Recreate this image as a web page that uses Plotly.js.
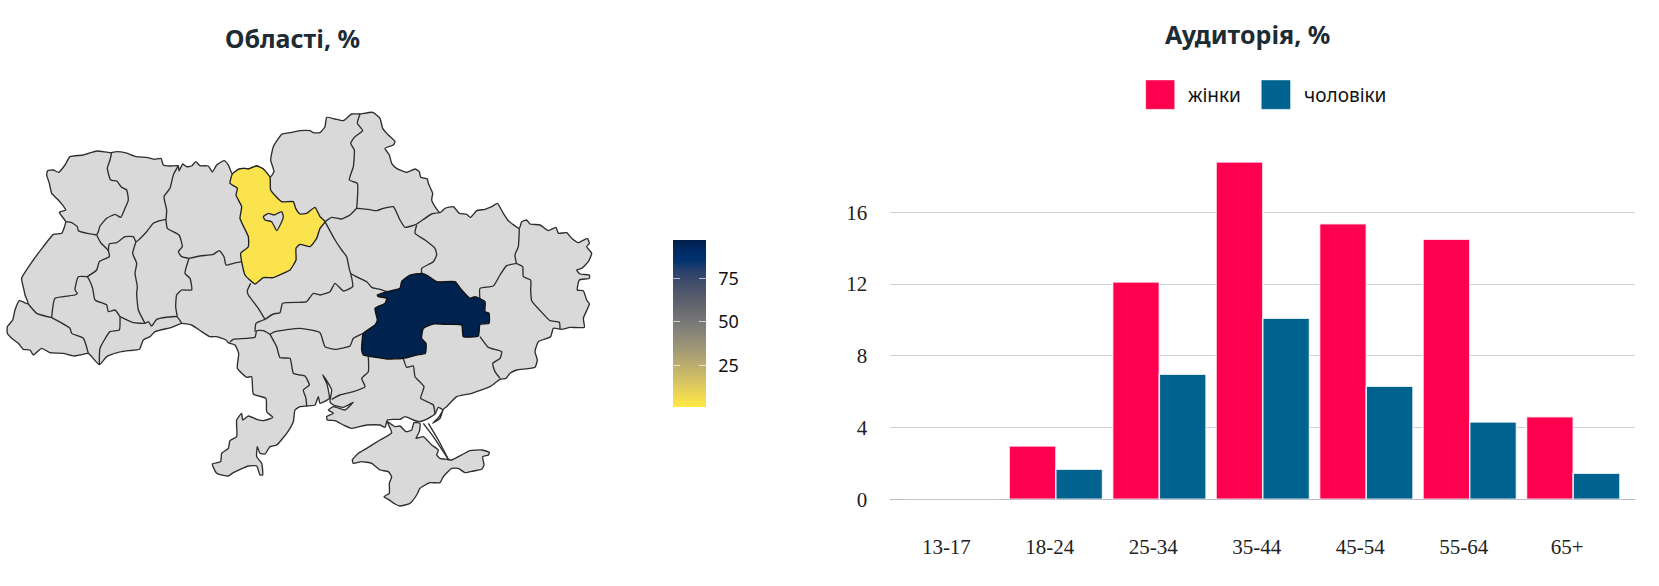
<!DOCTYPE html>
<html><head><meta charset="utf-8">
<script src="https://cdn.plot.ly/plotly-3.0.1.min.js"></script>
<style>html,body{margin:0;padding:0;background:#fff}#chart{width:1659px;height:586px}</style>
</head><body><div id="chart"></div>
<script>
// ---------- audience data ----------
const ageGroups = ['13-17','18-24','25-34','35-44','45-54','55-64','65+'];
const womenShare = [0, 2.97, 12.11, 18.8, 15.36, 14.49, 4.6];
const menShare = [0, 1.67, 6.97, 10.09, 6.3, 4.31, 1.45];
const yTicks = [0, 4, 8, 12, 16];
const seriesNames = ['жінки', 'чоловіки'];

// ---------- region data ----------
const scaleMin = 1, scaleMax = 97;
const scaleTicks = [25, 50, 75];
const scaleLevels = [1, 13, 25, 37, 49, 61, 73, 85, 97];

// ---------- map outlines, [east, south] in map-grid units ----------
const mainlandOutline = [[143,512],[160,510],[176,517],[195,495],[210,470],[250,465],[290,453],[330,458],[350,455],[375,458],[410,470],[440,472],[462,478],[483,475],[490,495],[510,498],[535,497],[537,513],[548,492],[560,500],[575,498],[587,485],[600,497],[625,498],[637,516],[650,495],[672,482],[685,495],[697,522],[715,508],[733,505],[745,507],[770,498],[790,507],[810,532],[822,515],[812,480],[820,440],[845,403],[870,398],[900,392],
[930,392],[940,398],[960,398],[975,380],[980,352],[1005,357],[1030,362],[1055,342],[1080,342],[1118,337],[1140,355],[1148,385],[1165,405],[1185,425],[1180,435],[1155,445],[1168,465],[1175,490],[1190,505],[1220,517],[1245,507],[1258,515],[1262,532],[1282,537],[1285,550],[1298,580],[1295,600],[1305,620],[1320,638],[1335,625],[1360,620],[1378,640],[1400,643],[1412,652],[1430,632],[1455,628],[1475,620],[1492,610],[1510,640],[1525,662],[1558,685],[1565,665],[1580,660],[1590,672],[1620,675],[1645,692],[1668,682],[1675,700],[1700,698],[1715,715],[1735,728],[1762,715],[1768,730],[1760,740],[1775,760],[1765,785],[1745,805],[1730,810],[1740,822],[1768,825],[1768,835],[1738,840],[1732,870],[1750,872],[1760,900],
[1768,912],[1750,955],[1753,982],[1710,982],[1685,988],[1660,985],[1652,1010],[1615,1025],[1605,1055],[1612,1080],[1605,1102],[1550,1110],[1530,1120],[1518,1135],[1500,1138],[1470,1160],[1415,1180],[1370,1190],[1340,1220],[1330,1228],[1320,1255],[1298,1270],[1315,1253],[1328,1230],[1315,1222],[1305,1242],[1285,1255],[1267,1263],[1258,1265],[1240,1260],[1215,1250],[1200,1258],[1180,1258],[1162,1260],[1155,1282],[1140,1275],[1100,1275],[1055,1285],[1030,1275],[1005,1262],[982,1260],[980,1250],[1000,1240],[985,1230],[1000,1220],[1035,1230],[1060,1207],[1030,1222],[1000,1215],[990,1205],[995,1170],[985,1150],[968,1125],[980,1150],[985,1170],[988,1195],[960,1210],[955,1190],[945,1215],[920,1218],[900,1220],
[885,1230],[880,1265],[860,1300],[830,1335],[810,1340],[795,1362],[780,1360],[772,1340],[770,1370],[785,1390],[788,1425],[780,1425],[770,1398],[745,1398],[700,1418],[685,1428],[650,1420],[637,1392],[662,1385],[665,1360],[685,1345],[690,1322],[710,1310],[710,1260],[725,1240],[728,1260],[745,1248],[770,1258],[790,1262],[818,1252],[800,1235],[798,1195],[760,1182],[755,1130],[740,1132],[712,1105],[716,1060],[705,1035],[685,1028],[678,1020],[650,1010],[630,1010],[605,995],[575,975],[545,970],
[515,982],[465,995],[450,1010],[430,1020],[418,1048],[385,1052],[355,1057],[320,1070],[298,1094],[265,1060],[240,1065],[222,1068],[190,1060],[150,1058],[125,1045],[100,1065],[90,1050],[70,1048],[55,1030],[35,1015],[22,1000],[22,980],[38,960],[45,930],[58,902],[85,912],[75,885],[72,870],[65,835],[100,780],[130,740],[160,703],[185,700],[197,665],[178,637],[197,630],[175,600],[155,580],[148,550],[140,525],[143,512]];

const crimeaOutline = [[1175,1298],[1162,1265],[1185,1280],[1200,1278],[1218,1295],[1235,1290],[1242,1268],[1260,1270],[1258,1295],[1248,1315],[1270,1310],[1295,1335],[1315,1350],[1310,1365],[1320,1375],[1340,1378],[1355,1380],[1375,1370],[1390,1362],[1410,1352],[1445,1350],[1468,1357],[1465,1365],[1448,1370],[1452,1395],[1445,1408],[1420,1413],[1395,1418],[1375,1405],[1355,1405],[1330,1430],[1320,1448],[1290,1448],[1260,1465],[1250,1485],[1230,1510],[1200,1518],[1185,1512],[1165,1498],[1152,1490],[1168,1480],[1168,1450],[1175,1430],[1165,1415],[1140,1410],[1115,1390],[1085,1385],[1060,1390],[1057,1380],[1075,1360],[1100,1345],[1140,1320],[1175,1298]];

const kyivOblast = [[697,522],[715,508],[733,505],[745,507],[770,498],[790,507],[810,532],[812,570],[845,605],[880,605],[887,625],[900,642],[920,640],[945,622],[960,650],[975,665],[960,685],[950,715],[930,740],[900,733],[888,745],[888,780],[870,810],[850,820],[820,833],[790,833],[765,852],[735,825],[725,785],[722,760],[745,740],[745,710],[720,655],[725,620],[708,585],[712,565],[690,550],[697,522]];
const kyivCity = [[790,650],[805,640],[822,645],[845,635],[850,650],[842,672],[830,692],[815,665],[795,660],[790,650]];
const dniproOblast = [[1132,885],[1162,875],[1200,865],[1205,845],[1230,825],[1265,820],[1285,828],[1310,845],[1365,845],[1385,870],[1410,895],[1425,890],[1455,905],[1455,935],[1467,940],[1467,970],[1440,973],[1435,1008],[1390,1010],[1385,975],[1340,973],[1300,972],[1270,985],[1265,1015],[1278,1030],[1276,1060],[1250,1065],[1210,1075],[1160,1077],[1135,1073],[1090,1065],[1085,1050],[1090,1000],[1125,975],[1132,960],[1125,925],[1155,910],[1160,895],[1135,890],[1132,885]];

const internalBorders = [
 [[335,458],[330,480],[322,505],[332,540],[350,543],[365,562],[380,570],[385,600],[375,625],[362,652],[345,643],[320,655],[300,678],[295,695],[290,705]],
 [[197,665],[215,668],[232,680],[235,692],[262,700],[290,705]],
 [[290,705],[302,728],[325,752],[328,770],[298,785],[290,810],[262,830]],
 [[262,830],[268,840],[278,865],[285,900],[320,915],[325,935],[345,930],[360,950]],
 [[360,950],[358,990],[330,995],[300,1045],[298,1094]],
 [[262,830],[235,830],[225,870],[232,880],[225,885],[165,895],[155,953]],
 [[155,953],[210,985],[215,1000],[250,1015],[265,1060]],
 [[85,912],[110,940],[155,953]],
 [[325,752],[328,732],[350,728],[375,710],[400,710],[408,725],[440,695],[460,670],[480,662],[498,658]],
 [[408,725],[398,760],[410,790],[405,820],[412,860],[410,880],[415,930],[435,970]],
 [[360,950],[400,968],[435,970],[445,965],[455,978],[470,958],[530,950],[545,970]],
 [[567,775],[555,820],[570,835],[575,870],[545,870],[530,885],[527,920],[532,950]],
 [[535,497],[520,525],[510,565],[492,590],[500,630],[498,658]],
 [[498,658],[502,685],[537,705],[547,740],[535,755],[545,770],[567,775]],
 [[567,775],[600,768],[640,763],[658,752],[672,770],[678,795],[700,790],[725,785]],
 [[752,850],[742,872],[745,885],[760,905],[775,925],[795,958]],
 [[795,958],[768,970],[765,995]],
 [[690,1025],[700,1018],[765,1012],[770,992],[790,992],[810,1003]],
 [[795,958],[820,942],[840,938],[848,910],[900,907],[920,905],[940,880],[960,885],[990,875],[1005,850],[1030,873],[1058,860],[1052,820]],
 [[810,1003],[825,995],[900,985],[960,998],[975,1040],[1005,1048],[1050,1038],[1060,1015],[1090,1000]],
 [[810,1003],[830,1040],[840,1073],[870,1075],[880,1120],[900,1125],[915,1128],[928,1155],[910,1170],[918,1195],[920,1218]],
 [[1105,1070],[1105,1115],[1085,1135],[1095,1160],[1060,1175],[1020,1185],[995,1198]],
 [[1210,1075],[1220,1102],[1240,1098],[1245,1130],[1272,1160],[1262,1195],[1300,1215],[1305,1242]],
 [[1440,1010],[1465,1042],[1505,1055],[1500,1075],[1478,1090],[1485,1115],[1500,1135]],
 [[1440,900],[1440,865],[1480,858],[1500,825],[1520,797],[1550,790]],
 [[1558,685],[1555,740],[1545,765],[1550,790],[1568,800],[1570,830],[1592,840],[1592,870],[1595,902],[1630,942],[1650,962],[1678,967],[1680,988]],
 [[1080,342],[1072,370],[1088,392],[1065,410],[1052,430],[1063,450],[1060,500],[1048,540],[1072,550],[1070,625]],
 [[1070,625],[1050,645],[1025,657],[995,652],[975,665]],
 [[1070,625],[1105,628],[1130,632],[1150,625],[1180,620],[1200,660],[1215,682],[1235,678],[1250,672],[1295,642],[1320,638]],
 [[1250,675],[1245,700],[1275,720],[1305,745],[1310,765],[1300,785],[1265,805],[1265,820]],
 [[975,665],[1005,720],[1025,750],[1040,770],[1052,820],[1100,845],[1115,862],[1140,868],[1162,875]],
 [[1270,1270],[1300,1310],[1345,1378]],
 [[1285,1270],[1315,1320],[1345,1378]]
];

const W = 1659, H = 586;
const xs = p => p.map(q => q[0]);
const ys = p => p.map(q => q[1]);
const joined = (list, i) => list.flatMap(b => b.map(q => q[i]).concat([null]));
const fx = v => v / W;
const fy = v => 1 - v / H;

const LINE = '#2e2e2e', LAND = '#d9d9d9', YELLOW = '#fae34c', NAVY = '#00224e';
const lineStyle = (c, w) => ({color:c, width:w, shape:'spline', smoothing:0.45});
const poly = (p, fill, lineColor) => ({type:'scatter', mode:'lines', x:xs(p), y:ys(p), xaxis:'x', yaxis:'y',
  fill:'toself', fillcolor:fill, line:lineStyle(lineColor, 1.35), hoverinfo:'skip', showlegend:false});

const traces = [
  poly(mainlandOutline, LAND, LINE),
  poly(crimeaOutline, LAND, LINE),
  {type:'scatter', mode:'lines', x:joined(internalBorders,0), y:joined(internalBorders,1), xaxis:'x', yaxis:'y',
   line:lineStyle(LINE, 1.35), hoverinfo:'skip', showlegend:false, connectgaps:false},
  poly(kyivOblast, YELLOW, '#222'),
  poly(kyivCity, LAND, LINE),
  poly(dniproOblast, NAVY, '#111'),
  {type:'heatmap', x:[0,1], y:scaleLevels, z:scaleLevels.map(v => [v,v]), xaxis:'x3', yaxis:'y3', zsmooth:'best',
   zmin:scaleMin, zmax:scaleMax, colorscale:'Cividis', reversescale:true, showscale:false, hoverinfo:'skip'},
  {type:'bar', name:seriesNames[0], x:ageGroups, y:womenShare, xaxis:'x2', yaxis:'y2', showlegend:false,
   marker:{color:'#ff004f', line:{color:'rgba(255,255,255,0.8)', width:1.5}}},
  {type:'bar', name:seriesNames[1], x:ageGroups, y:menShare, xaxis:'x2', yaxis:'y2', showlegend:false,
   marker:{color:'#00628f', line:{color:'rgba(255,255,255,0.8)', width:1.5}}}
];

const layout = {
  width:W, height:H, margin:{l:0,r:0,t:0,b:0}, paper_bgcolor:'#fff', plot_bgcolor:'rgba(0,0,0,0)',
  showlegend:false, barmode:'group', bargap:0.098, bargroupgap:0,
  xaxis:{domain:[0,640/W], range:[0,1920], visible:false, fixedrange:true},
  yaxis:{domain:[0,1], range:[1758,0], visible:false, fixedrange:true},
  xaxis2:{domain:[fx(890.3),fx(1635.3)], anchor:'y2', type:'category', range:[-0.6,6.6], categoryorder:'array', categoryarray:ageGroups,
    showgrid:false, showline:false, zeroline:false, ticks:'', ticklabelstandoff:33, ticklabelshift:-6,
    tickfont:{family:'Liberation Serif', size:21, color:'#222'}},
  yaxis2:{domain:[fy(499.3),fy(150)], anchor:'x2', range:[0,19.47], tickmode:'array', tickvals:yTicks,
    gridcolor:'#cfcfdc', gridwidth:1, zeroline:true, zerolinecolor:'#b9b9c8', zerolinewidth:1, showline:false, ticks:'', ticklabelstandoff:22,
    tickfont:{family:'Liberation Serif', size:21, color:'#222'}},
  xaxis3:{domain:[fx(673),fx(706.3)], anchor:'y3', range:[0,1], visible:false, fixedrange:true},
  yaxis3:{domain:[fy(407.3),fy(240)], anchor:'x3', side:'right', range:[scaleMin,scaleMax], tickmode:'array', tickvals:scaleTicks,
    showgrid:false, zeroline:false, showline:false, ticks:'inside', mirror:'allticks', ticklen:7, tickwidth:1, tickcolor:'rgba(255,255,255,0.65)',
    ticklabelstandoff:11, tickfont:{family:'Noto Sans', size:18, color:'#111'}, fixedrange:true},
  annotations:[
    {text:'<b>Області, %</b>', xref:'paper', yref:'paper', x:fx(292), y:fy(38), xanchor:'center', yanchor:'middle', showarrow:false,
     font:{family:'Noto Sans', size:25, color:'#1d2b33'}},
    {text:'<b>Аудиторія, %</b>', xref:'paper', yref:'paper', x:fx(1247), y:fy(33.5), xanchor:'center', yanchor:'middle', showarrow:false,
     font:{family:'Noto Sans', size:25, color:'#1d2b33'}},
    {text:seriesNames[0], xref:'paper', yref:'paper', x:fx(1186), y:fy(94.5), xanchor:'left', yanchor:'middle', showarrow:false,
     font:{family:'Noto Sans', size:19, color:'#111'}},
    {text:seriesNames[1], xref:'paper', yref:'paper', x:fx(1302), y:fy(94.5), xanchor:'left', yanchor:'middle', showarrow:false,
     font:{family:'Noto Sans', size:19, color:'#111'}}
  ],
  shapes:[
    {type:'rect', xref:'paper', yref:'paper', x0:fx(1145.7), x1:fx(1174.7), y0:fy(109.3), y1:fy(80), fillcolor:'#ff004f', line:{width:1,color:'rgba(255,255,255,0.4)'}},
    {type:'rect', xref:'paper', yref:'paper', x0:fx(1261.3), x1:fx(1290.5), y0:fy(109.3), y1:fy(80), fillcolor:'#00628f', line:{width:1,color:'rgba(255,255,255,0.4)'}}
  ]
};
Plotly.newPlot('chart', traces, layout, {displayModeBar:false, responsive:false});
</script></body></html>
